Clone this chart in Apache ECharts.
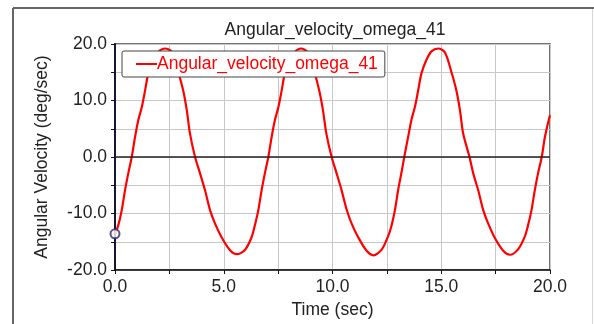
<!DOCTYPE html>
<html>
<head>
<meta charset="utf-8">
<script src="https://cdn.jsdelivr.net/npm/echarts@6/dist/echarts.min.js"></script>
<style>
html,body{margin:0;padding:0;background:#fff;}
#chart{width:594px;height:324px;}
</style>
</head>
<body>
<div id="chart"></div>
<script>
// Data
var chartTitle = 'Angular_velocity_omega_41';
var seriesName = 'Angular_velocity_omega_41';
var xName = 'Time (sec)';
var yName = 'Angular Velocity (deg/sec)';

var time = [
  0, 0.15, 0.31, 0.46, 0.61, 0.77, 0.92, 1.07, 1.23, 1.38, 1.53, 1.76, 1.99, 2.30, 2.61, 2.91, 3.14, 3.30, 3.45, 3.68,
  3.91, 4.14, 4.37, 4.60, 4.90, 5.29, 5.60, 5.98, 6.28,
  6.43, 6.59, 6.74, 6.89, 7.05, 7.20, 7.35, 7.51, 7.66, 7.81, 8.04, 8.27, 8.55, 8.86, 9.17, 9.40, 9.56, 9.72, 9.96,
  10.19, 10.42, 10.65, 10.88, 11.18, 11.57, 11.88, 12.26, 12.56,
  12.71, 12.87, 13.02, 13.17, 13.30, 13.48, 13.63, 13.79, 13.94, 14.09, 14.32, 14.55, 14.86, 15.17, 15.47, 15.70, 15.86, 16.01, 16.30,
  16.47, 16.70, 16.93, 17.16, 17.46, 17.85, 18.16, 18.54, 18.84,
  18.99, 19.15, 19.30, 19.45, 19.62, 19.76, 19.90, 20.00
];
var omega = [
  -13.6, -12.1, -9.4, -5.9, -2.9, 0.0, 3.5, 6.5, 8.8, 11.7, 14.8, 17.1, 18.6, 19.2, 18.6, 15.0, 11.7, 8.3, 4.1, 0.0,
  -2.9, -5.9, -9.4, -11.8, -14.2, -16.5, -17.2, -16.4, -14.2,
  -12.1, -9.4, -5.9, -2.9, 0.0, 3.5, 6.5, 8.8, 11.7, 14.8, 17.1, 18.6, 19.2, 18.5, 15.0, 11.6, 8.3, 4.1, 0.0,
  -2.9, -5.9, -9.3, -11.8, -14.2, -16.6, -17.4, -16.4, -14.0,
  -12.2, -9.4, -5.8, -2.8, 0.0, 3.6, 6.6, 8.9, 11.8, 14.8, 17.2, 18.7, 19.2, 18.5, 15.0, 11.7, 8.3, 4.1, 0.0,
  -2.9, -5.9, -9.4, -11.8, -14.3, -16.6, -17.3, -16.3, -14.1,
  -12.1, -9.4, -5.9, -2.9, 0.0, 3.4, 5.9, 7.4
];
var xMin = 0, xMax = 20, xStep = 2.5, xLabelStep = 5;
var yMin = -20, yMax = 20, yStep = 5, yLabelStep = 10;

var pts = time.map(function (t, i) { return [t, omega[i]]; });
var FONT = 'Liberation Sans, Arial, sans-serif';
var FS = 17.5;

var chart = echarts.init(document.getElementById('chart'), null, {renderer: 'canvas'});
chart.setOption({
  animation: false,
  backgroundColor: '#ffffff',
  title: {
    text: chartTitle,
    left: 330, top: 16, textAlign: 'center',
    textStyle: {fontFamily: FONT, fontSize: FS, fontWeight: 'normal', color: '#222'}
  },
  legend: {
    data: [seriesName],
    left: 122, top: 51,
    backgroundColor: '#fff',
    borderColor: '#444', borderWidth: 1, borderRadius: 2,
    padding: [4, 7, 4, 14],
    icon: 'rect', itemWidth: 21, itemHeight: 2, itemGap: 0,
    textStyle: {fontFamily: FONT, fontSize: FS, color: '#ff0000', padding: [0, 0, 0, -5]}
  },
  grid: {
    left: 115, right: 44, top: 44, bottom: 54,
    show: true, borderColor: '#444', borderWidth: 1.5, backgroundColor: 'transparent'
  },
  xAxis: {
    type: 'value', min: xMin, max: xMax, interval: xStep,
    name: xName, nameLocation: 'middle', nameGap: 31,
    nameTextStyle: {fontFamily: FONT, fontSize: FS, color: '#222'},
    axisLine: {show: true, onZero: false, lineStyle: {color: '#111', width: 1.5}},
    axisTick: {show: true, length: 4, lineStyle: {color: '#111'}},
    axisLabel: {
      fontFamily: FONT, fontSize: FS, color: '#222', margin: 8,
      showMinLabel: true, showMaxLabel: true,
      formatter: function (v) { return Math.abs(v % xLabelStep) < 1e-9 ? v.toFixed(1) : ''; }
    },
    splitLine: {show: true, lineStyle: {color: '#c8c8c8', width: 1}}
  },
  yAxis: {
    type: 'value', min: yMin, max: yMax, interval: yStep,
    name: yName, nameLocation: 'middle', nameGap: 64, nameRotate: 90,
    nameTextStyle: {fontFamily: FONT, fontSize: FS, color: '#222'},
    axisLine: {show: true, onZero: false, lineStyle: {color: '#151535', width: 2}},
    axisTick: {show: true, length: 4, lineStyle: {color: '#111'}},
    axisLabel: {
      fontFamily: FONT, fontSize: FS, color: '#222', margin: 8,
      formatter: function (v) { return Math.abs(v % yLabelStep) < 1e-9 ? v.toFixed(1) : ''; }
    },
    splitLine: {show: true, lineStyle: {color: '#c8c8c8', width: 1}}
  },
  series: [
    {
      name: seriesName, type: 'line', data: pts,
      smooth: 0.3, showSymbol: false, symbol: 'none',
      lineStyle: {color: '#ff0000', width: 2.2},
      itemStyle: {color: '#ff0000'},
      z: 3,
      markLine: {
        silent: true, symbol: 'none', label: {show: false},
        lineStyle: {color: '#222', width: 1.5, type: 'solid'},
        data: [{yAxis: 0}]
      }
    },
    {
      name: 'start', type: 'scatter', data: [pts[0]],
      symbol: 'emptyCircle', symbolSize: 9, silent: true,
      itemStyle: {color: '#2b2b6e', borderColor: '#2b2b6e', borderWidth: 1.2},
      z: 4
    }
  ],
  graphic: [
    {type: 'line', shape: {x1: 13, y1: 8, x2: 594, y2: 8}, style: {stroke: '#666', lineWidth: 2}},
    {type: 'line', shape: {x1: 13, y1: 8, x2: 13, y2: 324}, style: {stroke: '#666', lineWidth: 2}},
    {type: 'line', shape: {x1: 592.5, y1: 9, x2: 592.5, y2: 324}, style: {stroke: '#d8d8d8', lineWidth: 1}}
  ]
});
</script>
</body>
</html>
